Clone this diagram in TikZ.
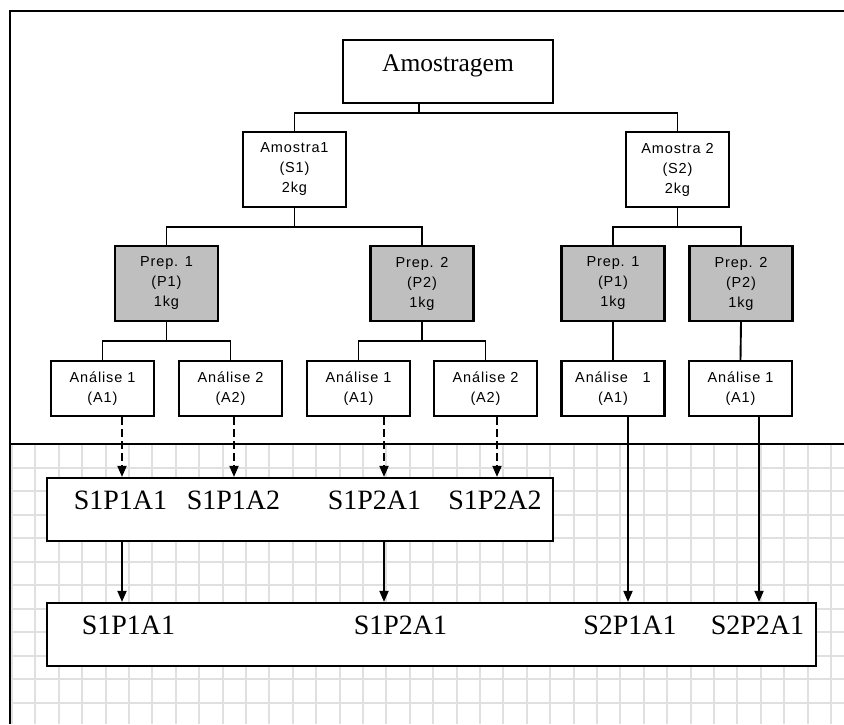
\documentclass[tikz,border=0pt]{standalone}
\usepackage{fontspec}
\setmainfont{Liberation Serif}
\newfontfamily\boxfont{Liberation Sans}[LetterSpace=6]
\usetikzlibrary{arrows.meta}
\begin{document}
\begin{tikzpicture}[x=1pt,y=-1pt,
  boxbase/.style={draw, line width=2.2pt, fill=white, inner sep=0pt, align=center},
  smallbox/.style={boxbase, minimum width=103pt, font=\boxfont\fontsize{14.5}{20}\selectfont},
  sampbox/.style={smallbox, minimum height=75pt},
  prepbox/.style={smallbox, minimum height=75pt, fill=black!25},
  anbox/.style={smallbox, minimum height=55pt},
  bigbox/.style={boxbase, minimum height=63pt},
  bigtext/.style={anchor=base, inner sep=0pt, font=\fontsize{28}{30}\selectfont},
  tree/.style={line width=1.9pt},
  arr/.style={line width=1.9pt, -{Triangle[length=11pt,width=9pt]}},
  darr/.style={arr, dash pattern=on 8pt off 4pt},
  frameline/.style={line width=2.6pt},
  gridline/.style={line width=2pt, draw=black!12}
]
\useasboundingbox (0,0) rectangle (844,724);
% grid background
\begin{scope}
  \clip (10,445) rectangle (844,724);
  \foreach \i in {0,...,36} \draw[gridline] ({12+23.4*\i},444) -- ({12+23.4*\i},724);
  \foreach \j in {0,...,11} \draw[gridline] (10,{467.5+23.5*\j}) -- (844,{467.5+23.5*\j});
\end{scope}
% frame
\draw[frameline] (10,724) -- (10,11) -- (844,11);
\draw[frameline] (10,444) -- (844,444);

% top
\node[bigbox, minimum width=210pt] (amo) at (448,71.5) {};
\node[anchor=base, inner sep=0pt, font=\fontsize{25.5}{27}\selectfont] (amoT) at (448,71) {Amostragem};

\node[sampbox] (s1) at (294.5,169.5) {Amostra1\\(S1)\\2kg};
\node[sampbox] (s2) at (677.5,169.5) {Amostra 2\\(S2)\\2kg};

\node[prepbox] (p11) at (166.5,283.5) {Prep. 1\\(P1)\\1kg};
\node[prepbox] (p12) at (422,283.5) {Prep. 2\\(P2)\\1kg};
\node[prepbox] (p21) at (613,283.5) {Prep. 1\\(P1)\\1kg};
\node[prepbox] (p22) at (741,283.5) {Prep. 2\\(P2)\\1kg};

\node[anbox] (a111) at (102.5,388.5) {Análise 1\\(A1)};
\node[anbox] (a112) at (230.5,388.5) {Análise 2\\(A2)};
\node[anbox] (a121) at (358.5,388.5) {Análise 1\\(A1)};
\node[anbox] (a122) at (485.5,388.5) {Análise 2\\(A2)};
\node[anbox] (a211) at (613,388.5) {Análise~~~1\\(A1)};
\node[anbox] (a221) at (740.5,388.5) {Análise 1\\(A1)};

% tree connectors
\coordinate (amoStem) at ([xshift=77pt]amo.south west);
\draw[tree] (amoStem) -- (amoStem |- 0,113) -| (s1.north);
\draw[tree] (amoStem |- 0,113) -| (s2.north);
\draw[tree] (s1.south) -- (s1.south |- 0,227) -| (p11.north);
\draw[tree] (s1.south |- 0,227) -| (p12.north);
\draw[tree] (s2.south) -- (s2.south |- 0,227) -| (p21.north);
\draw[tree] (s2.south |- 0,227) -| (p22.north);
\draw[tree] (p11.south) -- (p11.south |- 0,341) -| (a111.north);
\draw[tree] (p11.south |- 0,341) -| (a112.north);
\draw[tree] (p12.south) -- (p12.south |- 0,341) -| (a121.north);
\draw[tree] (p12.south |- 0,341) -| (a122.north);
\draw[tree] (p21.south) -- (a211.north);
\draw[tree] (p22.south) -- (a221.north);

% result boxes
\node[bigbox, minimum width=506pt] (r1) at (300,509.5) {};
\node[bigbox, minimum width=769pt] (r2) at (431.5,634.5) {};

\node[bigtext] (t1) at (120.5,509) {S1P1A1};
\node[bigtext] (t2) at (233.5,509) {S1P1A2};
\node[bigtext] (t3) at (374.5,509) {S1P2A1};
\node[bigtext] (t4) at (495,509) {S1P2A2};

\node[bigtext] (u1) at (128.5,634) {S1P1A1};
\node[bigtext] (u2) at (400.5,634) {S1P2A1};
\node[bigtext] (u3) at (630,634) {S2P1A1};
\node[bigtext] (u4) at (757.5,634) {S2P2A1};

% arrows
\coordinate (c1) at ([xshift=19.5pt]a111.south);
\coordinate (c2) at ([xshift=3.5pt]a112.south);
\coordinate (c3) at ([xshift=25.5pt]a121.south);
\coordinate (c4) at ([xshift=11.5pt]a122.south);
\coordinate (c5) at ([xshift=15pt]a211.south);
\coordinate (c6) at ([xshift=18.5pt]a221.south);

\draw[darr] (c1) -- (c1 |- r1.north);
\draw[darr] (c2) -- (c2 |- r1.north);
\draw[darr] (c3) -- (c3 |- r1.north);
\draw[darr] (c4) -- (c4 |- r1.north);
\draw[arr] (c1 |- r1.south) -- (c1 |- r2.north);
\draw[arr] (c3 |- r1.south) -- (c3 |- r2.north);
\draw[arr] (c5) -- (c5 |- r2.north);
\draw[arr] (c6) -- (c6 |- r2.north);
\end{tikzpicture}
\end{document}
